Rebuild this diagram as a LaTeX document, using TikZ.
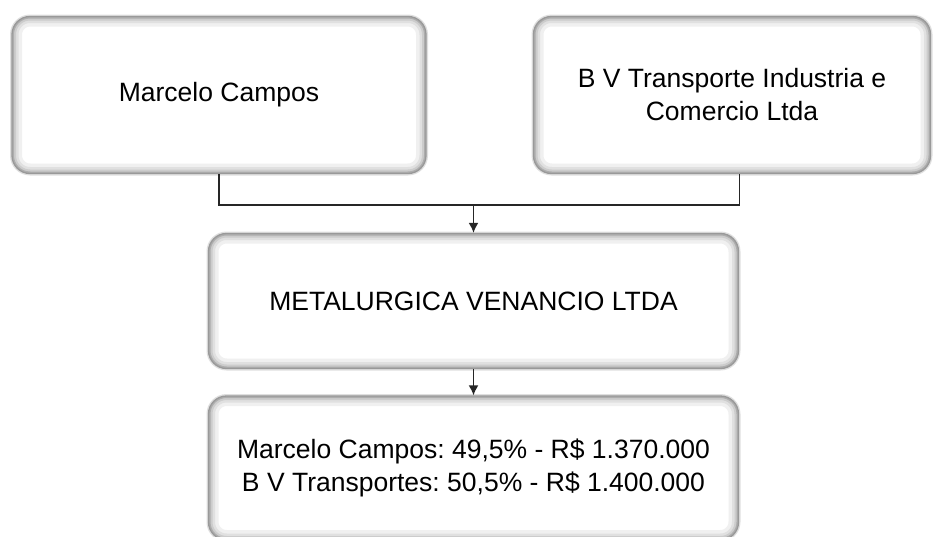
\documentclass[tikz,border=0pt]{standalone}
\usepackage{fontspec}
\setmainfont{Liberation Sans}
\usetikzlibrary{positioning,arrows.meta}
\tikzset{
    every node/.style={
        font=\fontsize{26.5}{33}\selectfont
    },
    entity/.style={
        shape=rectangle,
        rounded corners=18pt,
        fill=white,
        draw=gray!80,
        line width=1.3pt,
        align=center,
        preaction={draw=gray!25, line width=4pt},
        path picture={
            \foreach \lw/\sh in {20/6, 13/12, 8/20, 4/32}
                \draw[black!\sh, line width=\lw pt, rounded corners=18pt]
                    (path picture bounding box.south west) rectangle (path picture bounding box.north east);
        }
    },
    link/.style={
        draw=black!85,
        line width=1.3pt
    },
    flow/.style={
        link,
        line width=1.6pt,
        -{Latex[length=10pt,width=10pt]}
    }
}

\begin{document}
\frenchspacing
\begin{tikzpicture}[x=1pt, y=-1pt]
    \useasboundingbox (0,0) rectangle (933,536);
    \node (mc) at (219,95) [entity, minimum width=414pt, minimum height=157pt] {Marcelo Campos};
    \node (bv) at (732,95) [entity, minimum width=397pt, minimum height=157pt] {B V Transporte Industria e\\Comercio Ltda};
    \node (mv) at (473.5,301) [entity, minimum width=530pt, minimum height=135pt] {METALURGICA VENANCIO LTDA};
    \node (qs) at (473.5,468) [entity, minimum width=530pt, minimum height=144pt] {Marcelo Campos: 49,5\% - R\$ 1.370.000\\B V Transportes: 50,5\% - R\$ 1.400.000};
    \coordinate (j) at (mv.north |- 0,205);
    % Connectors
    \draw [link] (mc.south) |- (j) -| (bv.south -| mv.east);
    \draw [flow] (j) -- (mv.north);
    \draw [flow] (mv) -- (qs);
\end{tikzpicture}
\end{document}
